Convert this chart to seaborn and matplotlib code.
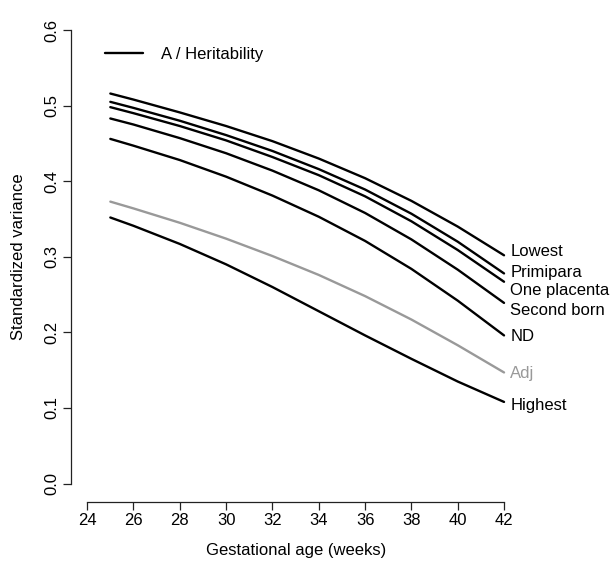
import matplotlib
matplotlib.use("Agg")
import matplotlib.pyplot as plt
from matplotlib.lines import Line2D
import seaborn as sns
import pandas as pd

# ---- data ----
weeks = [25, 26, 28, 30, 32, 34, 36, 38, 40, 42]
lowest       = [0.516, 0.508, 0.491, 0.473, 0.453, 0.430, 0.404, 0.374, 0.340, 0.302]
primipara    = [0.505, 0.497, 0.480, 0.461, 0.440, 0.416, 0.389, 0.357, 0.320, 0.278]
one_placenta = [0.498, 0.490, 0.473, 0.454, 0.432, 0.408, 0.380, 0.347, 0.309, 0.267]
second_born  = [0.483, 0.475, 0.457, 0.437, 0.414, 0.388, 0.358, 0.323, 0.283, 0.239]
nd           = [0.456, 0.447, 0.428, 0.406, 0.381, 0.353, 0.321, 0.284, 0.242, 0.196]
adj          = [0.373, 0.364, 0.345, 0.324, 0.301, 0.276, 0.248, 0.217, 0.183, 0.147]
highest      = [0.352, 0.341, 0.317, 0.290, 0.260, 0.228, 0.196, 0.165, 0.135, 0.108]

series_names = ["Lowest", "Primipara", "One placenta", "Second born", "ND", "Adj", "Highest"]
series_vals = [lowest, primipara, one_placenta, second_born, nd, adj, highest]
x_ticks = [24, 26, 28, 30, 32, 34, 36, 38, 40, 42]
y_ticks = [0.0, 0.1, 0.2, 0.3, 0.4, 0.5, 0.6]
legend_label = "A / Heritability"
x_title = "Gestational age (weeks)"
y_title = "Standardized variance"

rows = []
for name, vals in zip(series_names, series_vals):
    for w, v in zip(weeks, vals):
        rows.append({"week": w, "value": v, "series": name})
df = pd.DataFrame(rows)

GREY = "#999999"
palette = {n: ("black" if n != "Adj" else GREY) for n in series_names}
# vertical nudges of the end labels (points) so they do not collide
label_dy = {"Lowest": 2.5, "Primipara": 1.0, "One placenta": -6.0, "Second born": -5.5,
            "ND": -0.5, "Adj": -0.5, "Highest": -2.5}

sns.set_style("ticks")
plt.rcParams["font.family"] = ["Liberation Sans", "DejaVu Sans"]
plt.rcParams["text.color"] = "black"

W, H = 611, 564
fig = plt.figure(figsize=(W / 100, H / 100), dpi=100)
left, right, top, bottom = 70.5, 520.7, 11.9, 501.7
ax = fig.add_axes([left / W, (H - bottom) / H, (right - left) / W, (bottom - top) / H])

sns.lineplot(data=df, x="week", y="value", hue="series", palette=palette,
             linewidth=1.7, legend=False, ax=ax, sort=True)

ax.set_xlim(23.28, 42.72)
ax.set_ylim(-0.024, 0.624)
ax.set_xticks(x_ticks)
ax.set_xticklabels([str(t) for t in x_ticks])
ax.set_yticks(y_ticks)
ax.set_yticklabels([f"{t:.1f}" for t in y_ticks], rotation=90, va="center")
ax.set_xlabel("")
ax.set_ylabel("")

for s in ["top", "right"]:
    ax.spines[s].set_visible(False)
ax.spines["left"].set_bounds(0, 0.6)
ax.spines["bottom"].set_bounds(24, 42)
for s in ["left", "bottom"]:
    ax.spines[s].set_linewidth(0.9)
    ax.spines[s].set_color("#222222")
ax.tick_params(axis="both", direction="out", length=5.8, width=0.9,
               colors="#222222", labelsize=12, labelcolor="black", pad=2.5)

# right-end labels
for name, vals in zip(series_names, series_vals):
    ax.annotate(name, xy=(weeks[-1], vals[-1]), xytext=(4.5, label_dy[name]),
                textcoords="offset points", va="center", ha="left",
                fontsize=12, color=palette[name], annotation_clip=False)

# legend
handle = Line2D([], [], color="black", linewidth=1.7)
ax.legend([handle], [legend_label], loc="center left",
          bbox_to_anchor=(105 / W, (H - 54.3) / H), bbox_transform=fig.transFigure,
          frameon=False, fontsize=12, handlelength=2.28, handletextpad=1.1,
          borderpad=0, borderaxespad=0, labelcolor="black")

fig.text(296 / W, (H - 550) / H, x_title, ha="center", va="center", fontsize=12, color="black")
fig.text(19 / W, (H - 257) / H, y_title, ha="center", va="center", fontsize=12,
         rotation=90, color="black")

fig.savefig("out.png", dpi=100)
